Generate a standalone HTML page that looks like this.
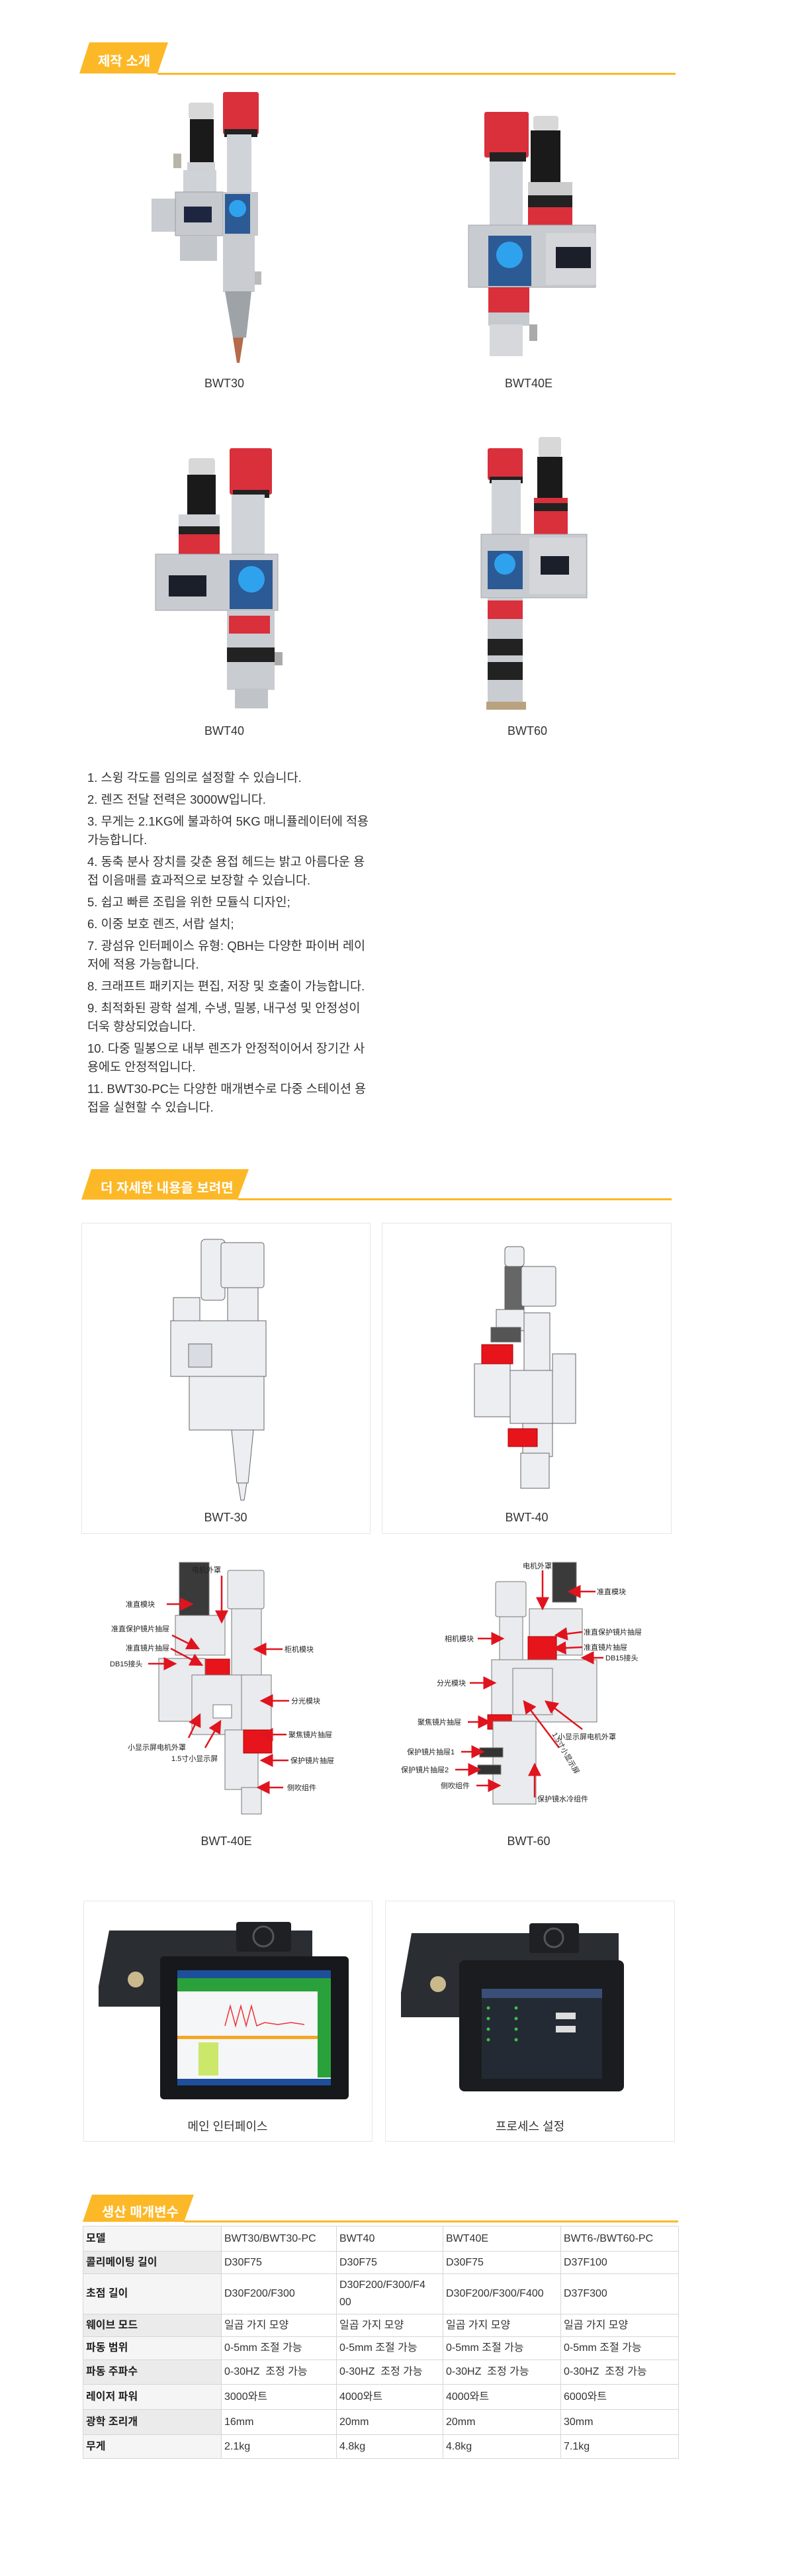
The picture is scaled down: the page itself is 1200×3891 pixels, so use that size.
<!DOCTYPE html>
<html><head><meta charset="utf-8">
<style>
*{margin:0;padding:0;box-sizing:border-box}
body{width:1200px;height:3891px;background:#fff;position:relative;overflow:hidden;font-family:"Liberation Sans","Noto Sans CJK KR",sans-serif;color:#333}
.abs{position:absolute}
.tabtxt{position:absolute;color:#fff;font-weight:bold;font-size:20px;white-space:nowrap;font-family:"Liberation Sans","Noto Sans CJK KR",sans-serif}
.hline{position:absolute;height:3px;background:#fdb827}
.cap{position:absolute;font-size:18px;color:#333;text-align:center;white-space:nowrap;transform:translateX(-50%)}
.box{position:absolute;border:1px solid #e6e6e6;background:transparent}
.list{position:absolute;left:132px;top:1161px;font-size:18.5px;line-height:28px;color:#333;white-space:nowrap}
.list p{margin-bottom:5px}
table{position:absolute;left:125px;top:3362px;width:900px;border-collapse:collapse;font-size:16px;color:#333;table-layout:fixed}
td{border:1.5px solid #d6d6d6;padding:0 4px;white-space:nowrap;vertical-align:middle;line-height:26px;overflow:hidden}
td.h{background:#f5f5f5;font-weight:bold;color:#222}
tr.alt td.h{background:#ebebeb}
.cn{position:absolute;font-size:11px;color:#222;white-space:nowrap;font-family:"Liberation Sans","Noto Sans CJK SC",sans-serif;transform:translateY(-50%)}
</style></head><body>

<svg class="abs" style="left:0;top:0" width="1200" height="3891" viewBox="0 0 1200 3891">
<defs>
<marker id="ah" markerWidth="8" markerHeight="8" refX="7" refY="4" orient="auto"><path d="M0,0 L8,4 L0,8 z" fill="#e0141e"/></marker>
</defs>
<polygon points="135,64 254,64 238,111 120,111" fill="#fdb827"/>
<polygon points="138,1766 376,1766 359,1812 123,1812" fill="#fdb827"/>
<polygon points="139,3315 293,3315 278,3356 125,3356" fill="#fdb827"/>

<g>
<rect x="337" y="139" width="54" height="64" rx="3" fill="#d9303c"/>
<rect x="339" y="195" width="50" height="12" fill="#222"/>
<rect x="285" y="155" width="38" height="25" rx="4" fill="#d8d8d8"/>
<rect x="287" y="180" width="36" height="65" fill="#1a1a1a"/>
<rect x="283" y="245" width="42" height="12" fill="#cfd1d4"/>
<rect x="343" y="203" width="37" height="90" fill="#d0d3d8"/>
<rect x="277" y="257" width="50" height="35" fill="#cfd2d6"/>
<rect x="262" y="232" width="12" height="22" fill="#b8b4a8"/>
<rect x="229" y="300" width="38" height="50" fill="#c9ccd1"/>
<rect x="265" y="290" width="72" height="66" fill="#c6c9ce" stroke="#9a9da2"/>
<rect x="278" y="312" width="42" height="24" fill="#1d2540"/>
<rect x="337" y="290" width="53" height="66" fill="#c6c9ce"/>
<rect x="340" y="293" width="38" height="60" fill="#2c5a94"/>
<circle cx="359" cy="315" r="13" fill="#2fa2ee"/>
<rect x="272" y="356" width="56" height="38" fill="#c3c6cb"/>
<rect x="337" y="356" width="48" height="85" fill="#c9ccd1"/>
<rect x="385" y="410" width="10" height="20" fill="#bbb"/>
<polygon points="340,440 380,440 372,510 352,510" fill="#9ea3a8"/>
<polygon points="352,510 368,510 362,548 358,548" fill="#b56a4a"/>
</g>
<g>
<rect x="732" y="169" width="67" height="69" rx="3" fill="#d9303c"/>
<rect x="740" y="230" width="55" height="14" fill="#222"/>
<rect x="806" y="175" width="38" height="22" rx="4" fill="#d8d8d8"/>
<rect x="802" y="197" width="45" height="78" fill="#1a1a1a"/>
<rect x="740" y="244" width="50" height="100" fill="#d0d3d8"/>
<rect x="798" y="275" width="67" height="20" fill="#ccc"/>
<rect x="798" y="295" width="67" height="18" fill="#222"/>
<rect x="798" y="313" width="67" height="27" fill="#d9303c"/>
<rect x="708" y="340" width="192" height="94" fill="#c8cbd0" stroke="#a0a3a8"/>
<rect x="825" y="352" width="75" height="78" fill="#d4d6da"/>
<rect x="738" y="356" width="65" height="76" fill="#2c5a94"/>
<circle cx="770" cy="385" r="20" fill="#2fa2ee"/>
<rect x="840" y="373" width="53" height="32" fill="#1b1f2a"/>
<rect x="738" y="434" width="62" height="38" fill="#d9303c"/>
<rect x="738" y="472" width="62" height="20" fill="#c6c9ce"/>
<rect x="740" y="490" width="50" height="48" fill="#d6d8db"/>
<rect x="800" y="490" width="12" height="25" fill="#aaa"/>
</g>
<g>
<rect x="347" y="677" width="64" height="70" rx="3" fill="#d9303c"/>
<rect x="352" y="740" width="55" height="12" fill="#222"/>
<rect x="285" y="692" width="40" height="25" rx="4" fill="#d8d8d8"/>
<rect x="283" y="717" width="43" height="60" fill="#1a1a1a"/>
<rect x="350" y="747" width="50" height="93" fill="#d0d3d8"/>
<rect x="270" y="777" width="62" height="28" fill="#d0d2d6"/>
<rect x="270" y="795" width="62" height="12" fill="#222"/>
<rect x="270" y="807" width="62" height="30" fill="#d9303c"/>
<rect x="235" y="837" width="185" height="85" fill="#c8cbd0" stroke="#a0a3a8"/>
<rect x="255" y="869" width="57" height="32" fill="#1b1f2a"/>
<rect x="347" y="846" width="65" height="74" fill="#2c5a94"/>
<circle cx="380" cy="875" r="20" fill="#2fa2ee"/>
<rect x="343" y="922" width="72" height="120" fill="#c9ccd1"/>
<rect x="346" y="930" width="62" height="27" fill="#d9303c"/>
<rect x="343" y="978" width="72" height="22" fill="#222"/>
<rect x="415" y="985" width="12" height="20" fill="#aaa"/>
<rect x="355" y="1040" width="50" height="30" fill="#c0c3c8"/>
</g>
<g>
<rect x="737" y="677" width="53" height="48" rx="3" fill="#d9303c"/>
<rect x="740" y="720" width="50" height="10" fill="#222"/>
<rect x="814" y="660" width="34" height="30" rx="4" fill="#d8d8d8"/>
<rect x="812" y="690" width="38" height="65" fill="#1a1a1a"/>
<rect x="743" y="725" width="44" height="85" fill="#d0d3d8"/>
<rect x="807" y="752" width="51" height="55" fill="#d9303c"/>
<rect x="807" y="760" width="51" height="12" fill="#222"/>
<rect x="727" y="807" width="160" height="96" fill="#c8cbd0" stroke="#a0a3a8"/>
<rect x="800" y="812" width="85" height="85" fill="#d4d6da"/>
<rect x="737" y="832" width="53" height="58" fill="#2c5a94"/>
<circle cx="763" cy="852" r="16" fill="#2fa2ee"/>
<rect x="817" y="840" width="43" height="28" fill="#1b1f2a"/>
<rect x="737" y="903" width="53" height="160" fill="#c9ccd1"/>
<rect x="737" y="907" width="53" height="28" fill="#d9303c"/>
<rect x="737" y="965" width="53" height="25" fill="#222"/>
<rect x="737" y="1000" width="53" height="27" fill="#222"/>
<rect x="735" y="1060" width="60" height="12" fill="#b9a27f"/>
</g>

<g fill="#eceef1" stroke="#666" stroke-width="1">
<rect x="304" y="1872" width="36" height="92" rx="6"/>
<rect x="334" y="1877" width="65" height="68" rx="4"/>
<rect x="344" y="1945" width="46" height="65"/>
<rect x="262" y="1960" width="40" height="40"/>
<rect x="258" y="1995" width="144" height="84"/>
<rect x="285" y="2030" width="35" height="35" fill="#d9dde3"/>
<rect x="286" y="2079" width="113" height="81"/>
<polygon points="350,2160 383,2160 375,2240 358,2240"/>
<polygon points="360,2240 373,2240 369,2266 364,2266"/>
</g>
<g fill="#eceef1" stroke="#666" stroke-width="1">
<rect x="763" y="1883" width="29" height="30" rx="5"/>
<rect x="763" y="1913" width="29" height="70" fill="#666"/>
<rect x="788" y="1913" width="52" height="60" rx="3"/>
<rect x="750" y="1978" width="42" height="32"/>
<rect x="792" y="1983" width="39" height="87"/>
<rect x="742" y="2005" width="45" height="22" fill="#555"/>
<rect x="717" y="2060" width="54" height="80"/>
<rect x="771" y="2070" width="64" height="80"/>
<rect x="835" y="2045" width="35" height="105"/>
<rect x="728" y="2031" width="47" height="29" fill="#e8141c" stroke="#a00"/>
<rect x="790" y="2150" width="45" height="50"/>
<rect x="768" y="2158" width="44" height="27" fill="#e8141c" stroke="#a00"/>
<rect x="787" y="2195" width="43" height="53"/>
</g>

<g fill="#e9ebee" stroke="#777" stroke-width="1">
<rect x="271" y="2360" width="45" height="95" fill="#3a3a3a"/>
<rect x="344" y="2372" width="55" height="58" rx="3"/>
<rect x="350" y="2430" width="45" height="110"/>
<rect x="265" y="2440" width="75" height="60"/>
<rect x="304" y="2506" width="43" height="30" fill="#e8141c" stroke="#a00"/>
<rect x="240" y="2505" width="70" height="95"/>
<rect x="290" y="2530" width="80" height="90"/>
<rect x="322" y="2575" width="28" height="20" fill="#fff"/>
<rect x="365" y="2530" width="45" height="85"/>
<rect x="340" y="2613" width="50" height="90"/>
<rect x="368" y="2613" width="43" height="35" fill="#e8141c" stroke="#a00"/>
<rect x="365" y="2700" width="30" height="40"/>
</g>
<g stroke="#e0141e" stroke-width="2.5" marker-end="url(#ah)" fill="none">
<line x1="252" y1="2423" x2="290" y2="2423"/>
<line x1="335" y1="2380" x2="335" y2="2450"/>
<line x1="260" y1="2470" x2="300" y2="2490"/>
<line x1="258" y1="2490" x2="305" y2="2515"/>
<line x1="224" y1="2513" x2="265" y2="2513"/>
<line x1="427" y1="2491" x2="385" y2="2491"/>
<line x1="437" y1="2569" x2="395" y2="2569"/>
<line x1="433" y1="2620" x2="395" y2="2620"/>
<line x1="436" y1="2659" x2="395" y2="2659"/>
<line x1="428" y1="2700" x2="390" y2="2700"/>
<line x1="285" y1="2625" x2="302" y2="2590"/>
<line x1="310" y1="2640" x2="333" y2="2600"/>
</g>
<g fill="#e9ebee" stroke="#777" stroke-width="1">
<rect x="835" y="2360" width="36" height="60" fill="#3a3a3a"/>
<rect x="749" y="2389" width="46" height="53" rx="3"/>
<rect x="755" y="2442" width="35" height="78"/>
<rect x="800" y="2430" width="80" height="70"/>
<rect x="798" y="2472" width="43" height="35" fill="#e8141c" stroke="#a00"/>
<rect x="743" y="2507" width="159" height="94"/>
<rect x="775" y="2520" width="60" height="70"/>
<rect x="737" y="2590" width="36" height="22" fill="#e8141c" stroke="#a00"/>
<rect x="745" y="2600" width="65" height="125"/>
<rect x="725" y="2640" width="35" height="14" fill="#333"/>
<rect x="722" y="2666" width="35" height="14" fill="#333"/>
</g>
<g stroke="#e0141e" stroke-width="2.5" marker-end="url(#ah)" fill="none">
<line x1="820" y1="2372" x2="820" y2="2430"/>
<line x1="900" y1="2404" x2="860" y2="2404"/>
<line x1="722" y1="2475" x2="760" y2="2475"/>
<line x1="880" y1="2465" x2="840" y2="2470"/>
<line x1="880" y1="2488" x2="838" y2="2490"/>
<line x1="912" y1="2504" x2="880" y2="2504"/>
<line x1="710" y1="2542" x2="748" y2="2542"/>
<line x1="707" y1="2601" x2="740" y2="2601"/>
<line x1="697" y1="2646" x2="730" y2="2646"/>
<line x1="688" y1="2673" x2="725" y2="2673"/>
<line x1="720" y1="2697" x2="755" y2="2697"/>
<line x1="808" y1="2715" x2="808" y2="2665"/>
<line x1="880" y1="2612" x2="825" y2="2570"/>
<line x1="845" y1="2640" x2="792" y2="2570"/>
</g>

<g>
<polygon points="149,3000 165,2916 472,2916 472,3031 149,3031" fill="#2a2d31"/>
<rect x="357" y="2903" width="83" height="45" rx="4" fill="#1e2023"/>
<circle cx="398" cy="2925" r="15" fill="none" stroke="#555" stroke-width="3"/>
<circle cx="205" cy="2990" r="12" fill="#c9b98c"/>
<rect x="242" y="2955" width="285" height="216" rx="6" fill="#16181b"/>
<rect x="268" y="2976" width="232" height="174" fill="#f4f6f8"/>
<rect x="268" y="2976" width="232" height="12" fill="#1d4f9a"/>
<rect x="268" y="2988" width="232" height="20" fill="#2aa13a"/>
<rect x="480" y="3008" width="20" height="130" fill="#2aa13a"/>
<polyline points="340,3060 348,3030 356,3060 364,3030 372,3060 380,3030 388,3060 400,3055 420,3058 440,3055 460,3058" fill="none" stroke="#e33" stroke-width="1.5"/>
<rect x="268" y="3075" width="212" height="5" fill="#f5a623"/>
<rect x="300" y="3085" width="30" height="50" fill="#cce86a"/>
<rect x="268" y="3140" width="232" height="10" fill="#1d4f9a"/>
</g>
<g>
<polygon points="606,3010 622,2920 935,2920 935,3047 606,3047" fill="#2a2d31"/>
<rect x="800" y="2905" width="75" height="45" rx="4" fill="#1e2023"/>
<circle cx="837" cy="2927" r="14" fill="none" stroke="#555" stroke-width="3"/>
<circle cx="662" cy="2997" r="12" fill="#c9b98c"/>
<rect x="694" y="2961" width="249" height="198" rx="8" fill="#1a1c1f"/>
<rect x="728" y="3004" width="182" height="136" fill="#232a33"/>
<rect x="728" y="3004" width="182" height="14" fill="#3a4f78"/>
<g fill="#3ac04a"><circle cx="738" cy="3033" r="2.5"/><circle cx="738" cy="3049" r="2.5"/><circle cx="738" cy="3065" r="2.5"/><circle cx="738" cy="3081" r="2.5"/><circle cx="780" cy="3033" r="2.5"/><circle cx="780" cy="3049" r="2.5"/><circle cx="780" cy="3065" r="2.5"/><circle cx="780" cy="3081" r="2.5"/></g>
<rect x="840" y="3040" width="30" height="10" fill="#ddd"/>
<rect x="840" y="3060" width="30" height="10" fill="#ddd"/>
</g>
</svg>

<div class="hline" style="left:238px;top:110px;width:783px"></div>
<div class="tabtxt" style="left:148px;top:76px">제작 소개</div>
<div class="hline" style="left:359px;top:1810px;width:656px"></div>
<div class="tabtxt" style="left:152px;top:1778px">더 자세한 내용을 보려면</div>
<div class="hline" style="left:278px;top:3354px;width:747px"></div>
<div class="tabtxt" style="left:154px;top:3325px">생산 매개변수</div>

<div class="cap" style="left:339px;top:569px">BWT30</div>
<div class="cap" style="left:799px;top:569px">BWT40E</div>
<div class="cap" style="left:339px;top:1094px">BWT40</div>
<div class="cap" style="left:797px;top:1094px">BWT60</div>

<div class="list">
<p>1. 스윙 각도를 임의로 설정할 수 있습니다.</p>
<p>2. 렌즈 전달 전력은 3000W입니다.</p>
<p>3. 무게는 2.1KG에 불과하여 5KG 매니퓰레이터에 적용<br>가능합니다.</p>
<p>4. 동축 분사 장치를 갖춘 용접 헤드는 밝고 아름다운 용<br>접 이음매를 효과적으로 보장할 수 있습니다.</p>
<p>5. 쉽고 빠른 조립을 위한 모듈식 디자인;</p>
<p>6. 이중 보호 렌즈, 서랍 설치;</p>
<p>7. 광섬유 인터페이스 유형: QBH는 다양한 파이버 레이<br>저에 적용 가능합니다.</p>
<p>8. 크래프트 패키지는 편집, 저장 및 호출이 가능합니다.</p>
<p>9. 최적화된 광학 설계, 수냉, 밀봉, 내구성 및 안정성이<br>더욱 향상되었습니다.</p>
<p>10. 다중 밀봉으로 내부 렌즈가 안정적이어서 장기간 사<br>용에도 안정적입니다.</p>
<p>11. BWT30-PC는 다양한 매개변수로 다중 스테이션 용<br>접을 실현할 수 있습니다.</p>
</div>

<div class="box" style="left:123px;top:1847px;width:437px;height:470px"></div>
<div class="box" style="left:577px;top:1847px;width:438px;height:470px"></div>
<div class="cap" style="left:341px;top:2282px">BWT-30</div>
<div class="cap" style="left:796px;top:2282px">BWT-40</div>

<div class="cap" style="left:342px;top:2771px">BWT-40E</div>
<div class="cap" style="left:799px;top:2771px">BWT-60</div>

<div class="cn" style="left:290px;top:2371px">电机外罩</div>
<div class="cn" style="left:190px;top:2423px">准直模块</div>
<div class="cn" style="left:168px;top:2460px">准直保护镜片抽屉</div>
<div class="cn" style="left:190px;top:2489px">准直镜片抽屉</div>
<div class="cn" style="left:166px;top:2513px">DB15接头</div>
<div class="cn" style="left:430px;top:2491px">柜机模块</div>
<div class="cn" style="left:440px;top:2569px">分光模块</div>
<div class="cn" style="left:436px;top:2620px">聚焦镜片抽屉</div>
<div class="cn" style="left:439px;top:2659px">保护镜片抽屉</div>
<div class="cn" style="left:434px;top:2700px">侧吹组件</div>
<div class="cn" style="left:193px;top:2639px">小显示屏电机外罩</div>
<div class="cn" style="left:259px;top:2656px">1.5寸小显示屏</div>

<div class="cn" style="left:790px;top:2365px">电机外罩</div>
<div class="cn" style="left:902px;top:2404px">准直模块</div>
<div class="cn" style="left:672px;top:2475px">相机模块</div>
<div class="cn" style="left:882px;top:2465px">准直保护镜片抽屉</div>
<div class="cn" style="left:882px;top:2488px">准直镜片抽屉</div>
<div class="cn" style="left:915px;top:2504px">DB15接头</div>
<div class="cn" style="left:660px;top:2542px">分光模块</div>
<div class="cn" style="left:843px;top:2623px">小显示屏电机外罩</div>
<div class="cn" style="left:631px;top:2601px">聚焦镜片抽屉</div>
<div class="cn" style="left:615px;top:2646px">保护镜片抽屉1</div>
<div class="cn" style="left:606px;top:2673px">保护镜片抽屉2</div>
<div class="cn" style="left:666px;top:2697px">侧吹组件</div>
<div class="cn" style="left:812px;top:2717px">保护镜水冷组件</div>
<div class="cn" style="left:820px;top:2648px;transform:translateY(-50%) rotate(60deg)">1.5寸小显示屏</div>

<div class="box" style="left:126px;top:2871px;width:437px;height:364px"></div>
<div class="box" style="left:582px;top:2871px;width:438px;height:364px"></div>
<div class="cap" style="left:344px;top:3198px">메인 인터페이스</div>
<div class="cap" style="left:801px;top:3198px">프로세스 설정</div>

<table>
<colgroup><col style="width:209px"><col style="width:174px"><col style="width:161px"><col style="width:178px"><col style="width:178px"></colgroup>
<tr style="height:38px"><td class="h">모델</td><td>BWT30/BWT30-PC</td><td>BWT40</td><td>BWT40E</td><td>BWT6-/BWT60-PC</td></tr>
<tr class="alt" style="height:34px"><td class="h">콜리메이팅 길이</td><td>D30F75</td><td>D30F75</td><td>D30F75</td><td>D37F100</td></tr>
<tr style="height:61px"><td class="h">초점 길이</td><td>D30F200/F300</td><td>D30F200/F300/F4<br>00</td><td>D30F200/F300/F400</td><td>D37F300</td></tr>
<tr class="alt" style="height:34px"><td class="h">웨이브 모드</td><td>일곱 가지 모양</td><td>일곱 가지 모양</td><td>일곱 가지 모양</td><td>일곱 가지 모양</td></tr>
<tr style="height:35px"><td class="h">파동 범위</td><td>0-5mm 조절 가능</td><td>0-5mm 조절 가능</td><td>0-5mm 조절 가능</td><td>0-5mm 조절 가능</td></tr>
<tr class="alt" style="height:37px"><td class="h">파동 주파수</td><td>0-30HZ&nbsp; 조정 가능</td><td>0-30HZ&nbsp; 조정 가능</td><td>0-30HZ&nbsp; 조정 가능</td><td>0-30HZ&nbsp; 조정 가능</td></tr>
<tr style="height:38px"><td class="h">레이저 파워</td><td>3000와트</td><td>4000와트</td><td>4000와트</td><td>6000와트</td></tr>
<tr class="alt" style="height:38px"><td class="h">광학 조리개</td><td>16mm</td><td>20mm</td><td>20mm</td><td>30mm</td></tr>
<tr style="height:36px"><td class="h">무게</td><td>2.1kg</td><td>4.8kg</td><td>4.8kg</td><td>7.1kg</td></tr>
</table>
</body></html>
